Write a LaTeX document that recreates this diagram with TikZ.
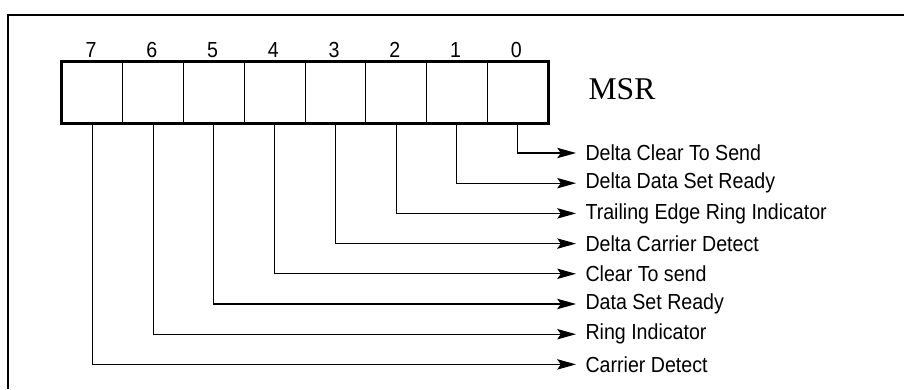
\documentclass[tikz,border=0pt]{standalone}
\usepackage{fontspec}
\setmainfont{Liberation Sans}[FakeStretch=0.9]
\newfontfamily\msrfont{Liberation Serif}
\usepackage{tikz}
\usetikzlibrary{arrows.meta}

\tikzset{
    cell/.style={draw, line width=0.7pt, minimum width=1.51875cm, minimum height=1.525cm, inner sep=0},
    bitlabel/.style={anchor=west, inner xsep=0.225cm, inner ysep=0, font=\fontsize{15.5}{18}\selectfont},
    bitno/.style={inner sep=0, font=\fontsize{15.5}{18}\selectfont}
}

\begin{document}
\begin{tikzpicture}[>={Stealth[length=0.47cm, width=0.26cm, inset=0.09cm]}, line width=0.75pt]
    \useasboundingbox (0, 0) rectangle (22.6, 9.725);

    % 外框 (只有上边和左边)
    \draw[line width=1.6pt] (0.2, 0) -- (0.2, 9.35) -- (22.6, 9.35);

    % 寄存器的八个位
    \foreach \b in {0,...,7} {
        \node[cell] (c\b) at ({1.55 + (7.5-\b)*1.51875}, 7.4125) {};
        \node[bitno] (n\b) at ({1.55 + (7.5-\b)*1.51875 - 0.03}, 8.475) {\b};
    }
    \draw[line width=1.5pt] (c7.south west) rectangle (c0.north east);
    \draw[line width=2.2pt] (c7.south west) -- (c7.north west);

    % 寄存器名称
    \node[font=\msrfont\fontsize{22.5}{24}\selectfont] (msr) at (15.55, 7.5) {MSR};

    % 各位的含义及引线
    \foreach \b/\txt in {0/Delta Clear To Send, 1/Delta Data Set Ready,
                         2/Trailing Edge Ring Indicator, 3/Delta Carrier Detect,
                         4/Clear To send, 5/Data Set Ready,
                         6/Ring Indicator, 7/Carrier Detect} {
        \node[bitlabel] (l\b) at (14.4, {5.9 - \b*0.755}) {\txt};
        \draw[->] (c\b.south) |- (l\b.west);
    }
\end{tikzpicture}
\end{document}
